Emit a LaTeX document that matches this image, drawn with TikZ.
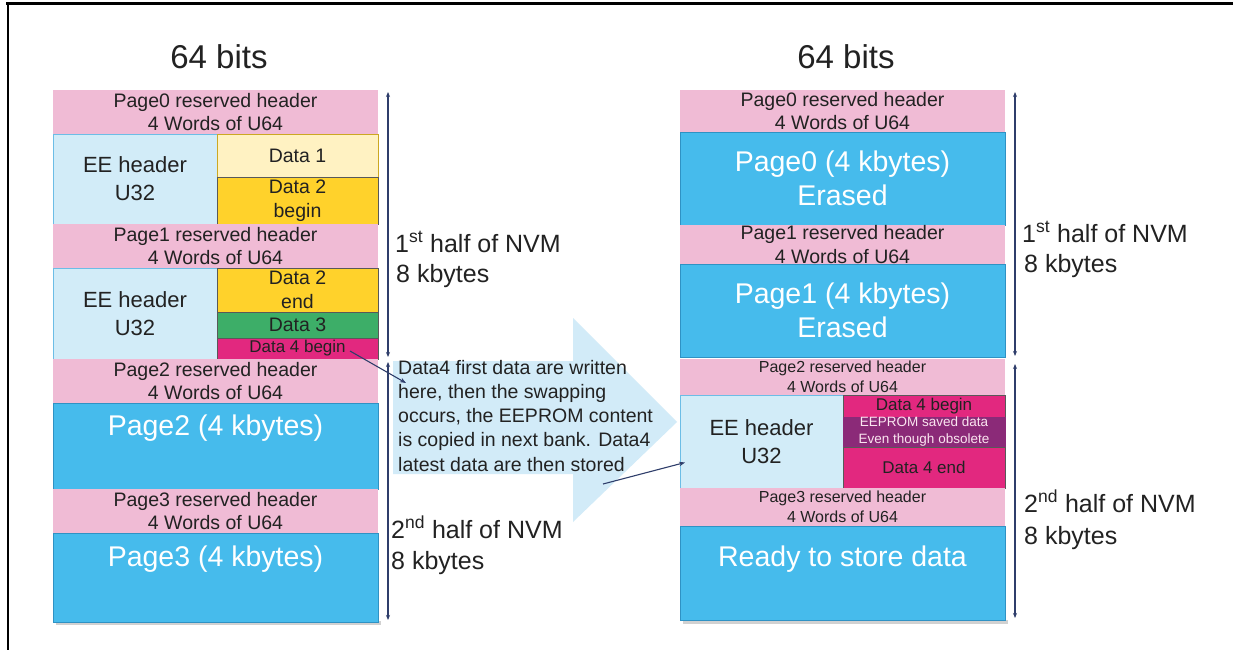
\documentclass[tikz,border=0pt]{standalone}
\usepackage{fontspec}
\setmainfont{Liberation Sans}
\usetikzlibrary{arrows.meta,calc}
\definecolor{pinkc}{HTML}{F0BBD5}
\definecolor{lbluec}{HTML}{D2ECF8}
\definecolor{lbluedark}{HTML}{6CBDE6}
\definecolor{bluec}{HTML}{46BBEC}
\definecolor{bluedark}{HTML}{2F92C4}
\definecolor{yellowc}{HTML}{FFF2C2}
\definecolor{goldc}{HTML}{FFD22B}
\definecolor{greenc}{HTML}{3DAE68}
\definecolor{magc}{HTML}{E2287F}
\definecolor{purpc}{HTML}{8B2A78}
\definecolor{arrowc}{HTML}{D2EBF8}
\definecolor{axisc}{HTML}{2F3E6B}
\definecolor{txt}{HTML}{222222}
\begin{document}
\begin{tikzpicture}[x=1pt,y=-1pt,
 base/.style={anchor=north west, inner sep=0pt, outer sep=0pt, align=center, text=txt},
 hdr/.style={base, fill=pinkc, font=\fontsize{19.5}{23.5}\selectfont},
 shdr/.style={base, fill=pinkc, font=\fontsize{16}{19.5}\selectfont},
 eecell/.style={base, fill=lbluec, draw=lbluedark, line width=1pt, font=\fontsize{22}{28}\selectfont},
 datacell/.style={base, draw=black!65, line width=0.7pt, font=\fontsize{19.5}{24.5}\selectfont},
 pagebox/.style={base, fill=bluec, draw=bluedark, line width=0.7pt, text=white, font=\fontsize{28.5}{34}\selectfont},
 pagetxt/.style={inner sep=0pt, text=white, font=\fontsize{28.5}{34}\selectfont},
 bits/.style={inner sep=0pt, font=\fontsize{33}{38}\selectfont, text=txt},
 halflbl/.style={anchor=base west, inner sep=0pt, font=\fontsize{25}{30}\selectfont, text=txt},
 axis/.style={draw=axisc, line width=1.1pt, {Stealth[length=5pt,width=4pt]}-{Stealth[length=5pt,width=4pt]}},
 pointer/.style={draw=axisc, line width=1.1pt, -{Stealth[length=6pt,width=4.5pt]}},
 shadowc/.style={fill=black, opacity=0.18},
]
\useasboundingbox (0,0) rectangle (1233,650);
\fill[white] (0,0) rectangle (1233,650);
% frame
\draw[line width=3pt] (6,4) -- (1233,4);
\draw[line width=2pt] (8,3) -- (8,650);

% big light blue arrow
\fill[arrowc] (393,361) -- (573,361) -- (573,318) -- (677,422) -- (573,522) -- (573,474) -- (393,474) -- cycle;

% titles
\node[bits] (bitsL) at (219,57) {64 bits};
\node[bits] (bitsR) at (846,57) {64 bits};

% shadows
\fill[shadowc] (56,621) rectangle (381,625);
\fill[shadowc] (683,620) rectangle (1008,624);

% ---------- left stack ----------
\node[hdr, minimum width=325pt, minimum height=44pt] (L0h) at (53,90) {Page0 reserved header\\4 Words of U64};
\node[eecell, minimum width=164pt, minimum height=90pt] (LEE1) at (53,134) {EE header\\U32};
\node[datacell, fill=yellowc, draw=goldc!80!black, minimum width=161pt, minimum height=43pt] (Ld1) at (217,134) {Data 1};
\node[datacell, fill=goldc, minimum width=161pt, minimum height=47pt] (Ld2b) at (217,177) {Data 2\\begin};
\node[hdr, minimum width=325pt, minimum height=44pt] (L1h) at (53,224) {Page1 reserved header\\4 Words of U64};
\node[eecell, minimum width=164pt, minimum height=91pt] (LEE2) at (53,268) {EE header\\U32};
\node[datacell, fill=goldc, minimum width=161pt, minimum height=44pt] (Ld2e) at (217,268) {Data 2\\end};
\node[datacell, fill=greenc, minimum width=161pt, minimum height=26pt] (Ld3) at (217,312) {Data 3};
\node[datacell, fill=magc, minimum width=161pt, minimum height=21pt, font=\fontsize{17}{20}\selectfont] (Ld4b) at (217,338) {Data 4 begin};
\node[hdr, minimum width=325pt, minimum height=44pt] (L2h) at (53,359) {Page2 reserved header\\4 Words of U64};
\node[pagebox, minimum width=325pt, minimum height=86pt] (L2p) at (53,403) {};
\node[pagetxt] (L2pt) at (215.5,428) {Page2 (4 kbytes)};
\node[hdr, minimum width=325pt, minimum height=44pt] (L3h) at (53,489) {Page3 reserved header\\4 Words of U64};
\node[pagebox, minimum width=325pt, minimum height=89pt] (L3p) at (53,533) {};
\node[pagetxt] (L3pt) at (215.5,559) {Page3 (4 kbytes)};

% ---------- right stack ----------
\node[hdr, minimum width=325pt, minimum height=42pt] (R0h) at (680,90) {Page0 reserved header\\4 Words of U64};
\node[pagebox, minimum width=325pt, minimum height=93pt] (R0p) at (680,132) {Page0 (4 kbytes)\\Erased};
\node[hdr, minimum width=325pt, minimum height=39pt] (R1h) at (680,225) {Page1 reserved header\\4 Words of U64};
\node[pagebox, minimum width=325pt, minimum height=93pt] (R1p) at (680,264) {Page1 (4 kbytes)\\Erased};
\node[shdr, minimum width=325pt, minimum height=36pt] (R2h) at (680,359) {Page2 reserved header\\4 Words of U64};
\node[eecell, minimum width=163pt, minimum height=93pt] (REE) at (680,395) {EE header\\U32};
\node[datacell, fill=magc, minimum width=162pt, minimum height=22pt, font=\fontsize{17}{20}\selectfont] (Rd4b) at (843,395) {Data 4 begin};
\node[datacell, fill=purpc, draw=purpc, text=white!88!magc, minimum width=162pt, minimum height=30pt, font=\fontsize{13.5}{17}\selectfont] (Rsv) at (843,417) {EEPROM saved data\\Even though obsolete};
\node[datacell, fill=magc, minimum width=162pt, minimum height=41pt, font=\fontsize{17}{20}\selectfont] (Rd4e) at (843,447) {Data 4 end};
\node[shdr, minimum width=325pt, minimum height=38pt] (R3h) at (680,488) {Page3 reserved header\\4 Words of U64};
\node[pagebox, minimum width=325pt, minimum height=94pt] (Rrd) at (680,526) {};
\node[pagetxt] (Rrdt) at (842.5,559) {Ready to store data};

% ---------- axes ----------
\coordinate (la1) at (388,92);  \coordinate (la2) at (388,357);
\coordinate (la3) at (388,362); \coordinate (la4) at (388,620);
\coordinate (ra1) at (1015,92); \coordinate (ra2) at (1015,356);
\coordinate (ra3) at (1015,364); \coordinate (ra4) at (1015,618);
\draw[axis] (la1) -- (la2);
\draw[axis] (la3) -- (la4);
\draw[axis] (ra1) -- (ra2);
\draw[axis] (ra3) -- (ra4);

\node[halflbl] (LH1a) at (395,252) {1\textsuperscript{st} half of NVM};
\node[halflbl] (LH1b) at (396,282) {8 kbytes};
\node[halflbl] (LH2a) at (391,538) {2\textsuperscript{nd} half of NVM};
\node[halflbl] (LH2b) at (391,569) {8 kbytes};
\node[halflbl] (RH1a) at (1022,242) {1\textsuperscript{st} half of NVM};
\node[halflbl] (RH1b) at (1024,272) {8 kbytes};
\node[halflbl] (RH2a) at (1024,512) {2\textsuperscript{nd} half of NVM};
\node[halflbl] (RH2b) at (1024,544) {8 kbytes};

% ---------- middle text ----------
\node[anchor=north west, inner sep=0pt, align=left, text=txt, font=\fontsize{19.5}{24.2}\selectfont] (mtext) at (398,360)
 {Data4 first data are written\\here, then the swapping\\occurs, the EEPROM content\\is copied in next bank. Data4\\latest data are then stored};

% ---------- pointers ----------
\coordinate (a1s) at (350,351);
\coordinate (a1e) at (406,383);
\draw[pointer] (a1s) -- (a1e);
\coordinate (a2s) at (603,484);
\draw[pointer] (a2s) -- ($(REE.west)+(5,21)$);
\end{tikzpicture}
\end{document}
